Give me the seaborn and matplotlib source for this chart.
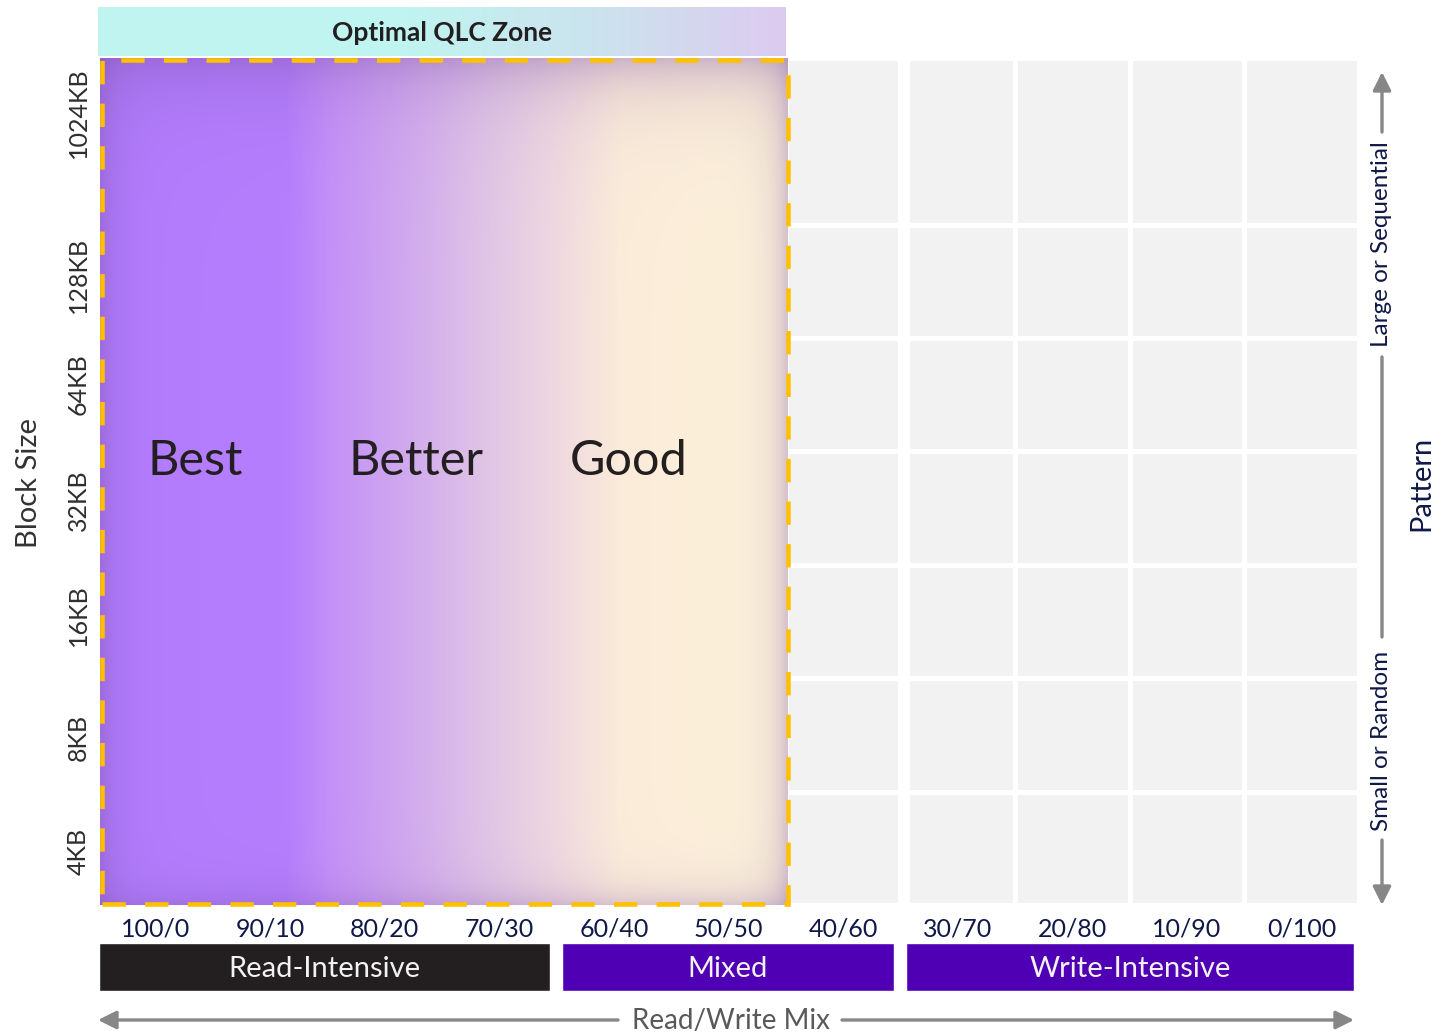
import numpy as np
import matplotlib
matplotlib.use("Agg")
import matplotlib.pyplot as plt
from matplotlib.colors import ListedColormap, to_rgb
from matplotlib.patches import Rectangle, FancyArrowPatch, ArrowStyle
import seaborn as sns

# ---- data ----
mix_labels = ['100/0', '90/10', '80/20', '70/30', '60/40', '50/50',
              '40/60', '30/70', '20/80', '10/90', '0/100']
block_sizes = ['4KB', '8KB', '16KB', '32KB', '64KB', '128KB', '1024KB']
row_edges = [0, 1, 2, 3, 4, 5, 6, 7.47]          # top row is taller
block_tick_pos = [0.47, 1.48, 2.56, 3.57, 4.59, 5.56, 6.99]
groups = ['Read-Intensive', 'Mixed', 'Write-Intensive']
group_start = [0, 4, 7]
group_end = [4, 7, 11]
group_colors = ['#231f20', '#5000b4', '#5000b4']
zone_words = ['Best', 'Better', 'Good']
zone_word_x = [0.85, 2.77, 4.63]
zone_cols = 6   # optimal QLC zone = 100/0 .. 50/50

W, H = 1448, 1035
NAVY = '#0f1847'
GREY = '#878787'

sns.set_theme(style='white')
plt.rcParams['font.family'] = ['Lato', 'DejaVu Sans']

fig = plt.figure(figsize=(W / 100, H / 100), dpi=100)


def box(l, t, r, b):
    return [l / W, 1 - b / H, (r - l) / W, (b - t) / H]


def fp(x, y):
    return (x / W, 1 - y / H)


# ---- grid of cells ----
ax = fig.add_axes(box(98, 58, 1359, 905))
n_cols = len(mix_labels)
col_edges = np.arange(n_cols + 1)
row_mid = [(row_edges[i] + row_edges[i + 1]) / 2 for i in range(len(block_sizes))]
cx, cy = np.meshgrid(np.arange(n_cols) + 0.5, row_mid)
sns.histplot(x=cx.ravel(), y=cy.ravel(), bins=(col_edges, row_edges),
             cmap=ListedColormap(['#f2f2f2']), edgecolor='white', linewidth=2.2,
             cbar=False, ax=ax)
ax.axvline(7.03, color='white', lw=8.6, zorder=3)

# gradient for the optimal zone
gw, gh = 690, 845
xs = np.linspace(0, 1, gw)
stops = [(0.0, '#b27cfe'), (0.27, '#b47efd'), (0.34, '#c492f7'), (0.45, '#d1aaee'),
         (0.56, '#e0c4e6'), (0.66, '#eed8e0'), (0.76, '#fbecda'), (1.0, '#fdf2da')]
base = np.stack([np.interp(xs, [s for s, _ in stops], [to_rgb(c)[k] for _, c in stops])
                 for k in range(3)], axis=-1)
img = np.tile(base[None, :, :], (gh, 1, 1))
px_x = np.arange(gw)[None, :]
px_y = np.arange(gh)[:, None]


def fall(d, w, a):
    return a * np.exp(-d / w)


s = 1 - (1 - fall(px_x, 18, .35)) * (1 - fall(gw - 1 - px_x, 16, .3)) \
      * (1 - fall(px_y, 35, .35)) * (1 - fall(gh - 1 - px_y, 18, .25))
shadow = np.array(to_rgb('#784da2'))
img = img * (1 - s[..., None]) + shadow * s[..., None]
ax.imshow(img, extent=(0.02, 6.02, 0, 7.47), aspect='auto', zorder=4,
          interpolation='bilinear', origin='upper')

ax.add_patch(Rectangle((0.035, 0.01), 6.02 - 0.035, 7.45 - 0.01, fill=False,
                       ec='#ffc000', lw=3.3, ls=(0, (5.1, 4.2)), zorder=6, clip_on=False))

for w, x in zip(zone_words, zone_word_x):
    ax.text(x, 3.92, w, fontsize=35, color='#231f20', ha='center', va='center', zorder=7)

ax.set_xlim(0, n_cols)
ax.set_ylim(0, row_edges[-1])
ax.set_xticks(np.arange(n_cols) + 0.5)
ax.set_xticklabels(mix_labels)
ax.set_yticks(block_tick_pos)
ax.set_yticklabels(block_sizes, rotation=90, va='center')
ax.tick_params(axis='x', length=0, pad=9, labelsize=18, labelcolor=NAVY)
ax.tick_params(axis='y', length=0, pad=6, labelsize=18, labelcolor='#2e2e2e')
ax.set_xlabel('')
ax.set_ylabel('')
for sp in ax.spines.values():
    sp.set_visible(False)

fig.text(*fp(29, 483), 'Block Size', rotation=90, ha='center', va='center',
         fontsize=21, color='#333333')

# ---- header ----
hax = fig.add_axes(box(98, 7, 786, 56))
hx = np.linspace(0, 1, 400)
hstops = [(0.0, '#bff5f0'), (0.45, '#c0f4f0'), (0.75, '#cde1ee'), (1.0, '#dccbf0')]
hrow = np.stack([np.interp(hx, [s for s, _ in hstops], [to_rgb(c)[k] for _, c in hstops])
                 for k in range(3)], axis=-1)
hax.imshow(hrow[None, :, :], aspect='auto', extent=(0, 1, 0, 1))
hax.set_axis_off()
hax.text(0.5, 0.46, 'Optimal QLC Zone', ha='center', va='center', fontsize=19,
         fontweight='bold', color='#231f20', transform=hax.transAxes)

# ---- group bars ----
bax = fig.add_axes(box(98, 943, 1359, 991))
bax.set_xlim(0, n_cols)
bax.set_ylim(0, 1)
for g, a, b, c in zip(groups, group_start, group_end, group_colors):
    lo = a + 0.045 if a > 0 else a + 0.01
    hi = b - 0.055 if b < n_cols else b - 0.04
    bax.barh(0.5, hi - lo, left=lo, height=1, color=c)
    bax.text((lo + hi) / 2, 0.45, g, ha='center', va='center', fontsize=21, color='#f2f2f2')
bax.set_axis_off()

# ---- arrows ----
head = ArrowStyle('-|>', head_length=11, head_width=5.5)


def fig_line(p0, p1, tip=False):
    fig.add_artist(FancyArrowPatch(fp(*p0), fp(*p1), transform=fig.transFigure,
                                   arrowstyle=head if tip else '-', mutation_scale=1,
                                   color=GREY, lw=2.4, shrinkA=0, shrinkB=0))


fig_line((1382, 132), (1382, 72), True)
fig_line((1382, 357), (1382, 637))
fig_line((1382, 840), (1382, 905), True)
fig.text(*fp(1382, 244), 'Large or Sequential', rotation=90, ha='center', va='center',
         fontsize=17.5, color=NAVY)
fig.text(*fp(1382, 741), 'Small or Random', rotation=90, ha='center', va='center',
         fontsize=17.5, color=NAVY)
fig.text(*fp(1421, 483), 'Pattern', rotation=90, ha='center', va='center',
         fontsize=21, color=NAVY)

fig_line((618, 1020), (98, 1020), True)
fig_line((842, 1020), (1354, 1020), True)
fig.text(*fp(731, 1021), 'Read/Write Mix', ha='center', va='center',
         fontsize=20, color='#595959')

fig.savefig('out.png', dpi=100)
